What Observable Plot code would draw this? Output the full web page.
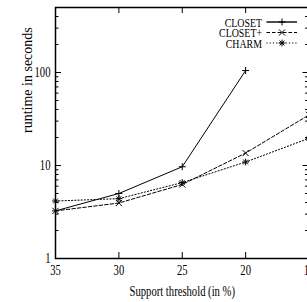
<!DOCTYPE html>
<html><head><meta charset="utf-8">
<script src="https://cdn.jsdelivr.net/npm/d3@7"></script>
<script src="https://cdn.jsdelivr.net/npm/@observablehq/plot@0.6"></script>
<style>html,body{margin:0;padding:0;background:#fff;overflow:hidden}</style>
</head><body><div id="chart"></div>
<script>
// ---- data ----
const thresholds = [35, 30, 25, 20, 15];
const closet     = [3.25, 5.0, 9.7, 105, null];
const closetPlus = [3.25, 3.95, 6.25, 13.6, 35];
const charm      = [4.15, 4.4, 6.55, 10.9, 19.6];
const seriesNames = ["CLOSET", "CLOSET+", "CHARM"];
const xTicks = [35, 30, 25, 20, 15];
const yTicks = [1, 10, 100];
const yMinor = [2, 3, 4, 5, 6, 7, 8, 9, 20, 30, 40, 50, 60, 70, 80, 90, 200, 300, 400, 500];
const xLabel = "Support threshold (in %)";
const yLabel = "runtime in seconds";

// ---- layout / style ----
const W = 307, H = 302, mL = 55, mR = -1.5, mT = 7, mB = 44;
const innerW = W - mL - mR, innerH = H - mT - mB;
const seriesValues = [closet, closetPlus, charm];
const dashes = [null, "3.5,2", "1.2,2"];
const star = {
  draw(ctx, size) {
    const r = Math.sqrt(size / Math.PI), d = r * Math.SQRT1_2;
    ctx.moveTo(-r, 0); ctx.lineTo(r, 0);
    ctx.moveTo(0, -r); ctx.lineTo(0, r);
    ctx.moveTo(-d, -d); ctx.lineTo(d, d);
    ctx.moveTo(-d, d); ctx.lineTo(d, -d);
  }
};
const symbols = ["plus", "times", star];
const radii = [2.4, 2.9, 3.4];

const rows = seriesNames.map((name, i) =>
  thresholds.map((t, j) => ({series: name, x: t, y: seriesValues[i][j]})).filter(d => d.y != null));

const seriesMarks = rows.flatMap((data, i) => [
  Plot.line(data, {x: "x", y: "y", stroke: "black", strokeWidth: 1, strokeDasharray: dashes[i]}),
  Plot.dot(data, {x: "x", y: "y", symbol: symbols[i], r: radii[i], stroke: "black", strokeWidth: 1, fill: "none"})
]);

const plot = Plot.plot({
  width: W, height: H,
  marginLeft: mL, marginRight: mR, marginTop: mT, marginBottom: mB,
  style: {fontFamily: "'Liberation Serif', 'Times New Roman', serif", fontSize: "14px", background: "#fff", color: "#000"},
  x: {domain: [35, 15], ticks: xTicks, tickSize: 0, tickPadding: 7, label: null, tickFormat: d => String(d)},
  y: {type: "log", domain: [1, 500], ticks: yTicks, tickSize: 0, tickPadding: 5, label: null, tickFormat: d => String(d)},
  marks: [
    // inward tick marks on all four sides
    Plot.tickY(yTicks, {y: d => d, insetRight: innerW - 6, stroke: "black"}),
    Plot.tickY(yMinor, {y: d => d, insetRight: innerW - 3.5, stroke: "black"}),
    Plot.tickY(yTicks, {y: d => d, insetLeft: innerW - 6, stroke: "black"}),
    Plot.tickY(yMinor, {y: d => d, insetLeft: innerW - 3.5, stroke: "black"}),
    Plot.tickX(xTicks, {x: d => d, insetTop: innerH - 6, stroke: "black"}),
    Plot.tickX(xTicks, {x: d => d, insetBottom: innerH - 6, stroke: "black"}),
    ...seriesMarks,
    Plot.frame({stroke: "black", strokeWidth: 1.5}),
    Plot.text([xLabel], {text: d => d, frameAnchor: "bottom", dy: 37, fontSize: 14}),
    Plot.text([yLabel], {text: d => d, frameAnchor: "left", dx: -28, rotate: -90, fontSize: 14})
  ]
});
document.getElementById("chart").append(plot);

// ---- legend (top right, inside frame) ----
const svg = d3.select(plot);
const right = W - mR;
const legY = [22, 32.5, 43];
const lg = svg.append("g").attr("class", "legend").attr("fill", "black");
seriesNames.forEach((name, i) => {
  const y = legY[i];
  lg.append("text").attr("x", right - 46.5).attr("y", y).attr("dy", "0.35em")
    .attr("text-anchor", "end").attr("font-size", 13).text(name);
  lg.append("line").attr("x1", right - 42).attr("x2", right - 11.5).attr("y1", y).attr("y2", y)
    .attr("stroke", "black").attr("stroke-width", i === 0 ? 1.4 : 1)
    .attr("stroke-dasharray", dashes[i]);
  const sym = typeof symbols[i] === "string" ? {plus: d3.symbolPlus, times: d3.symbolTimes}[symbols[i]] : symbols[i];
  lg.append("path").attr("transform", `translate(${right - 26.5},${y})`)
    .attr("d", d3.symbol(sym, Math.PI * radii[i] * radii[i])())
    .attr("fill", "none").attr("stroke", "black").attr("stroke-width", 1);
});

// ---- horizontally condensed serif (reference text is narrow) ----
const squeeze = 0.76;
plot.querySelectorAll("text").forEach(t => {
  if (t.textContent === yLabel) return;
  const L = t.getComputedTextLength();
  if (L > 0) {
    t.setAttribute("textLength", (L * squeeze).toFixed(2));
    t.setAttribute("lengthAdjust", "spacingAndGlyphs");
  }
});
</script>
</body></html>
